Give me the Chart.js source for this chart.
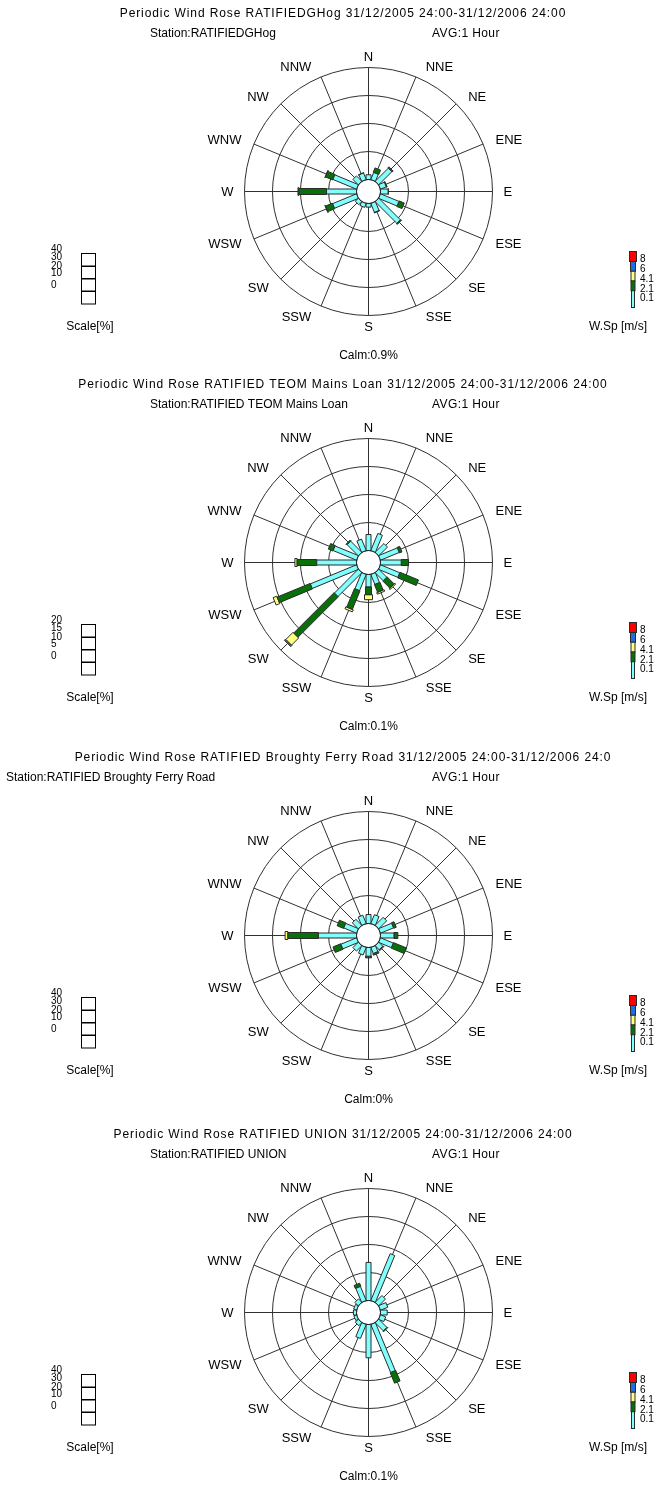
<!DOCTYPE html>
<html>
<head>
<meta charset="utf-8">
<script src="https://cdn.jsdelivr.net/npm/chart.js@4.4.1/dist/chart.umd.min.js"></script>
<style>
  html, body { margin: 0; padding: 0; background: #fff; width: 664px; height: 1487px; overflow: hidden; }
  canvas.rose { position: absolute; left: 0; }
</style>
</head>
<body>
<canvas id="rose0" class="rose"></canvas>
<canvas id="rose1" class="rose"></canvas>
<canvas id="rose2" class="rose"></canvas>
<canvas id="rose3" class="rose"></canvas>
<script>
// ---- data -------------------------------------------------------------
const directions = ['N', 'NNE', 'NE', 'ENE', 'E', 'ESE', 'SE', 'SSE', 'S', 'SSW', 'SW', 'WSW', 'W', 'WNW', 'NW', 'NNW'];
const speedClasses = ['0.1', '2.1', '4.1', '6', '8'];   // lower bound of each wind-speed band, m/s

// RATIFIEDGHog — % of hours per direction, one array per speed band
const ghogTitle = 'Periodic Wind Rose RATIFIEDGHog 31/12/2005 24:00-31/12/2006 24:00';
const ghogStation = 'Station:RATIFIEDGHog';
const ghogCalm = 'Calm:0.9%';
const ghogScale = [0, 10, 20, 30, 40];
const ghogBand1 = [1.7, 2.7, 6.6, 2.2, 2.7, 7.1, 10.9, 3.4, 1.3, 1.5, 1.5, 9.2, 10.7, 9.1, 2.7, 2.5];
const ghogBand2 = [0, 1.7, 0.5, 0.3, 0.1, 2.0, 0.4, 0.2, 0, 0, 0, 2.7, 9.9, 2.8, 0, 0.1];
const ghogBand3 = [0, 0, 0, 0, 0, 0, 0, 0, 0, 0, 0, 0.1, 0.3, 0.1, 0, 0];
const ghogBand4 = [0, 0, 0, 0, 0, 0, 0, 0, 0, 0, 0, 0, 0, 0, 0, 0];
const ghogBand5 = [0, 0, 0, 0, 0, 0, 0, 0, 0, 0, 0, 0, 0, 0, 0, 0];

// RATIFIED TEOM Mains Loan
const teomTitle = 'Periodic Wind Rose RATIFIED TEOM Mains Loan 31/12/2005 24:00-31/12/2006 24:00';
const teomStation = 'Station:RATIFIED TEOM Mains Loan';
const teomCalm = 'Calm:0.1%';
const teomScale = [0, 5, 10, 15, 20];
const teomBand1 = [2.85, 3.3, 2.2, 3.6, 3.7, 3.7, 2.0, 1.9, 2.2, 3.1, 6.0, 8.9, 7.1, 4.5, 2.8, 2.2];
const teomBand2 = [0, 0, 0, 0.5, 1.3, 3.6, 1.8, 1.5, 1.4, 3.6, 10.2, 6.4, 3.5, 0.9, 0.2, 0];
const teomBand3 = [0, 0, 0, 0, 0, 0, 0.2, 0.3, 0.9, 0.4, 1.8, 0.7, 0.4, 0, 0, 0];
const teomBand4 = [0, 0, 0, 0, 0, 0, 0, 0, 0, 0, 0.3, 0, 0, 0, 0, 0];
const teomBand5 = [0, 0, 0, 0, 0, 0, 0, 0, 0, 0, 0, 0, 0, 0, 0, 0];

// RATIFIED Broughty Ferry Road
const bfrTitle = 'Periodic Wind Rose RATIFIED Broughty Ferry Road 31/12/2005 24:00-31/12/2006 24:0';
const bfrStation = 'Station:RATIFIED Broughty Ferry Road';
const bfrCalm = 'Calm:0%';
const bfrScale = [0, 10, 20, 30, 40];
const bfrBand1 = [3.2, 3.4, 4.0, 5.0, 4.8, 4.9, 2.0, 2.3, 3.1, 2.9, 2.7, 6.0, 13.6, 4.9, 3.0, 3.2];
const bfrBand2 = [0, 0, 0, 1.0, 1.4, 5.0, 0.4, 0.6, 0.6, 0, 0, 3.0, 10.9, 2.5, 0, 0];
const bfrBand3 = [0, 0, 0, 0, 0, 0, 0, 0, 0, 0, 0, 0, 1.0, 0, 0, 0];
const bfrBand4 = [0, 0, 0, 0, 0, 0, 0, 0, 0, 0, 0, 0, 0, 0, 0, 0];
const bfrBand5 = [0, 0, 0, 0, 0, 0, 0, 0, 0, 0, 0, 0, 0, 0, 0, 0];

// RATIFIED UNION
const unionTitle = 'Periodic Wind Rose RATIFIED UNION 31/12/2005 24:00-31/12/2006 24:00';
const unionStation = 'Station:RATIFIED UNION';
const unionCalm = 'Calm:0.1%';
const unionScale = [0, 10, 20, 30, 40];
const unionBand1 = [13.6, 18.1, 3.4, 2.8, 2.4, 2.0, 4.1, 18.5, 11.9, 5.4, 1.5, 1.0, 1.1, 1.1, 1.7, 5.4];
const unionBand2 = [0, 0, 0, 0, 0, 0, 0.3, 4.1, 0, 0, 0, 0, 0, 0, 0, 1.2];
const unionBand3 = [0, 0, 0, 0, 0, 0, 0, 0, 0, 0, 0, 0, 0, 0, 0, 0];
const unionBand4 = [0, 0, 0, 0, 0, 0, 0, 0, 0, 0, 0, 0, 0, 0, 0, 0];
const unionBand5 = [0, 0, 0, 0, 0, 0, 0, 0, 0, 0, 0, 0, 0, 0, 0, 0];

// ---- styling / layout -------------------------------------------------
const bandColors = ['#80ffff', '#087008', '#ffff80', '#1f6fe0', '#ff0000'];
const bandWidths = [5, 6, 8, 9, 10];
const legendWidths = [3, 4, 4, 5, 7];
const outlineColor = '#2a2a2a';
const gridColor = '#303030';
const FONT = '"Liberation Sans", Arial, sans-serif';

const W = 664, H = 372;
const CX = 368, CY = 191;        // rose centre inside each canvas (shifted +0.5 for crisp lines)
const R_OUT = 124, R_CALM = 12;  // outer ring and calm circle radius, px
const canvasTops = [0, 371, 744, 1121];
const stationX = [150, 150, 6, 150];

const roses = [
  { title: ghogTitle, station: ghogStation, calm: ghogCalm, ticks: ghogScale,
    bands: [ghogBand1, ghogBand2, ghogBand3, ghogBand4, ghogBand5] },
  { title: teomTitle, station: teomStation, calm: teomCalm, ticks: teomScale,
    bands: [teomBand1, teomBand2, teomBand3, teomBand4, teomBand5] },
  { title: bfrTitle, station: bfrStation, calm: bfrCalm, ticks: bfrScale,
    bands: [bfrBand1, bfrBand2, bfrBand3, bfrBand4, bfrBand5] },
  { title: unionTitle, station: unionStation, calm: unionCalm, ticks: unionScale,
    bands: [unionBand1, unionBand2, unionBand3, unionBand4, unionBand5] }
];

// ---- stacked radial bar controller -----------------------------------
class WindRoseController extends Chart.RadarController {
  static id = 'windRose';
  static defaults = { barWidth: 5 };
  static overrides = { aspectRatio: 1, scales: { r: { type: 'radialLinear' } } };

  draw() {
    const chart = this.chart;
    const ctx = chart.ctx;
    const scale = this._cachedMeta.rScale;
    const ds = this.getDataset();
    const half = (ds.barWidth || 5) / 2;
    const count = chart.data.labels.length;
    ctx.save();
    for (let i = 0; i < count; i++) {
      const parsed = this.getParsed(i);
      const v = parsed ? parsed.r : 0;
      if (!v) continue;
      // stack on top of the lower speed bands for the same direction
      let base = 0;
      for (let j = 0; j < this.index; j++) {
        const p = chart.getDatasetMeta(j).controller.getParsed(i);
        base += (p && p.r) || 0;
      }
      const a = scale.getPointPositionForValue(i, base);
      const b = scale.getPointPositionForValue(i, base + v);
      const dx = b.x - a.x, dy = b.y - a.y;
      const len = Math.hypot(dx, dy) || 1;
      const nx = -dy / len * half, ny = dx / len * half;
      ctx.beginPath();
      ctx.moveTo(a.x + nx, a.y + ny);
      ctx.lineTo(b.x + nx, b.y + ny);
      ctx.lineTo(b.x - nx, b.y - ny);
      ctx.lineTo(a.x - nx, a.y - ny);
      ctx.closePath();
      ctx.fillStyle = ds.backgroundColor;
      ctx.fill();
      ctx.lineWidth = 1;
      ctx.strokeStyle = ds.borderColor;
      ctx.stroke();
    }
    ctx.restore();
  }
}
Chart.register(WindRoseController);

// ---- decorations: calm circle, compass labels, headings, legends ------
const decorPlugin = {
  id: 'roseDecor',
  beforeDatasetsDraw(chart) {
    const s = chart.scales.r;
    const ctx = chart.ctx;
    const r0 = s.getDistanceFromCenterForValue(0);
    ctx.save();
    ctx.beginPath();
    ctx.arc(s.xCenter, s.yCenter, r0, 0, Math.PI * 2);
    ctx.fillStyle = '#fff';
    ctx.fill();
    ctx.lineWidth = 1;
    ctx.strokeStyle = gridColor;
    ctx.stroke();
    ctx.restore();
  },
  afterDraw(chart, args, opts) {
    const s = chart.scales.r;
    const ctx = chart.ctx;
    const cx = s.xCenter, cy = s.yCenter;
    ctx.save();
    ctx.fillStyle = '#000';
    ctx.textBaseline = 'middle';

    // compass point labels
    ctx.font = '13px ' + FONT;
    ctx.textAlign = 'center';
    chart.data.labels.forEach((lab, i) => {
      const ang = s.getIndexAngle(i);
      const p = s.getPointPosition(i, 135);
      const sn = Math.sin(ang), cs = Math.cos(ang);
      const w = ctx.measureText(lab).width;
      const side = Math.abs(sn) < 1e-6 ? 0 : Math.sign(sn);
      const x = p.x + side * (w / 2 + 6 * Math.abs(cs));
      ctx.fillText(lab, x, p.y + 1);
    });

    // headings
    ctx.font = '12px ' + FONT;
    ctx.letterSpacing = '0.9px';
    ctx.fillText(opts.title, 343, cy - 178);
    ctx.textAlign = 'left';
    ctx.letterSpacing = '0.4px';
    ctx.fillText('AVG:1 Hour', 432, cy - 157.5);
    ctx.letterSpacing = '0px';
    ctx.fillText(opts.station, opts.stationX, cy - 157.5);
    ctx.textAlign = 'center';
    ctx.fillText(opts.calm, cx, cy + 164);

    // percentage scale key
    const boxL = 81.5, boxW = 14, boxT = cy + 61.5, cellH = 12.5;
    ctx.strokeStyle = '#000';
    ctx.lineWidth = 1;
    for (let k = 0; k < 4; k++) {
      ctx.strokeRect(boxL, Math.round(boxT + k * cellH) + 0.5, boxW, cellH);
    }
    ctx.font = '10px ' + FONT;
    ctx.textAlign = 'left';
    const tickY = [57.5, 66, 74.5, 82, 93.5];
    opts.ticks.slice().reverse().forEach((t, k) => {
      ctx.fillText(String(t), 51, cy + tickY[k]);
    });
    ctx.font = '12px ' + FONT;
    ctx.textAlign = 'center';
    ctx.fillText('Scale[%]', 90, cy + 135);

    // wind speed key
    const legX = 633;
    const labY = speedClasses.map((_, k) => cy + 107 - 9.75 * k);
    for (let k = speedClasses.length - 1; k >= 0; k--) {
      const top = k === speedClasses.length - 1 ? labY[k] - 8 : labY[k + 1] + 2;
      const bottom = k === 0 ? labY[0] + 9 : labY[k] + 2;
      const w = legendWidths[k];
      ctx.fillStyle = bandColors[k];
      ctx.fillRect(legX - w / 2, top, w, bottom - top);
      ctx.strokeStyle = outlineColor;
      ctx.strokeRect(legX - w / 2, top, w, bottom - top);
    }
    ctx.fillStyle = '#000';
    ctx.font = '10px ' + FONT;
    ctx.textAlign = 'left';
    speedClasses.forEach((lab, k) => ctx.fillText(lab, 640, labY[k]));
    ctx.font = '12px ' + FONT;
    ctx.textAlign = 'center';
    ctx.fillText('W.Sp [m/s]', 618, cy + 135);
    ctx.restore();
  }
};

// ---- build the four charts --------------------------------------------
roses.forEach((rose, n) => {
  const canvas = document.getElementById('rose' + n);
  canvas.width = W;
  canvas.height = H;
  canvas.style.width = W + 'px';
  canvas.style.height = H + 'px';
  canvas.style.top = canvasTops[n] + 'px';

  const maxPct = rose.ticks[rose.ticks.length - 1];
  // value 0 sits on the calm circle rather than at the very centre
  const minPct = -maxPct * R_CALM / (R_OUT - R_CALM);

  new Chart(canvas, {
    type: 'windRose',
    data: {
      labels: directions,
      datasets: rose.bands.map((vals, k) => ({
        label: speedClasses[k],
        data: vals,
        backgroundColor: bandColors[k],
        borderColor: outlineColor,
        barWidth: bandWidths[k],
        fill: false,
        showLine: false,
        pointRadius: 0
      }))
    },
    options: {
      responsive: false,
      animation: false,
      events: [],
      layout: { padding: { left: CX - R_OUT, right: W - CX - R_OUT, top: CY - R_OUT, bottom: H - CY - R_OUT } },
      plugins: {
        legend: { display: false },
        tooltip: { enabled: false },
        filler: { propagate: false },
        roseDecor: { title: rose.title, station: rose.station, stationX: stationX[n], calm: rose.calm, ticks: rose.ticks }
      },
      scales: {
        r: {
          min: minPct,
          max: maxPct,
          startAngle: 0,
          ticks: { display: false },
          pointLabels: { display: false },
          grid: { circular: true, color: gridColor, lineWidth: 1 },
          angleLines: { display: true, color: gridColor, lineWidth: 1 },
          afterBuildTicks: (scale) => { scale.ticks = rose.ticks.map(v => ({ value: v })); },
          afterFit: (scale) => { scale.xCenter += 0.5; scale.yCenter += 0.5; }
        }
      }
    },
    plugins: [decorPlugin]
  });
});
</script>
</body>
</html>
